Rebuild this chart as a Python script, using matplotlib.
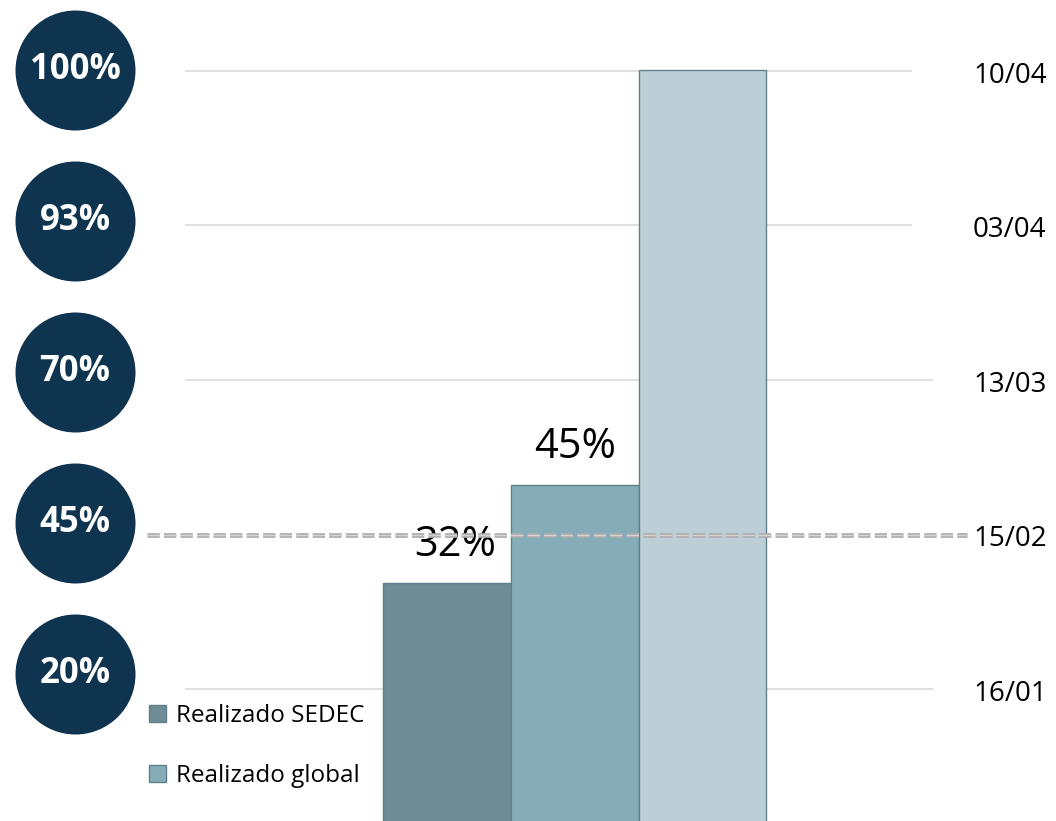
import matplotlib
matplotlib.use("Agg")
import matplotlib.pyplot as plt
from matplotlib.patches import Patch

# Data
bar_names = ["Realizado SEDEC", "Realizado global", "Meta"]
bar_values = [32, 45, 100]
bar_labels = ["32%", "45%", ""]
bar_colors = ["#6e8c95", "#86adb7", "#bdcfd6"]

targets = ["20%", "45%", "70%", "93%", "100%"]
dates = ["16/01", "15/02", "13/03", "03/04", "10/04"]
current_row = 1  # 45% / 15/02 is drawn dashed

W, H = 1056, 821
fig = plt.figure(figsize=(W / 100, H / 100), dpi=100)
plt.rcParams["font.family"] = ["Open Sans", "DejaVu Sans"]

# milestone layer (grid lines + dates)
ax2 = fig.add_axes([0, 0, 1, 1])
ax2.set_xlim(0, W)
ax2.set_ylim(-132 / 154.5, 689 / 154.5)
ax2.axis("off")
for i, d in enumerate(dates):
    if i != current_row:
        x_end = 912 if i >= 3 else 933
        ax2.hlines(i, 185, x_end, colors="#dcdcdc", linewidth=1.3)
    ax2.text(973, i - 0.03, d, fontsize=20, va="center", ha="left", color="black")

# bars
ax = fig.add_axes([0, 0, 1, 1])
ax.patch.set_alpha(0)
bw = 127.67
ax.set_xlim(-447 / bw, (W - 447) / bw)
ax.set_ylim(3.4 / 7.544, 824.4 / 7.544)
ax.axis("off")
handles = []
label_dx = [6, 0, 0]
for i, (name, v, c) in enumerate(zip(bar_names, bar_values, bar_colors)):
    ax.bar(i, v, width=1.0, color=c, edgecolor="#5f808a", linewidth=1.0)
    if bar_labels[i]:
        handles.append(Patch(facecolor=c, edgecolor="#5f808a", label=name))
        ax.annotate(bar_labels[i], (i, v), xytext=(label_dx[i], 12), textcoords="offset points",
                    ha="center", va="bottom", fontsize=30, color="black")

# target circles + dashed current line on top
ax3 = fig.add_axes([0, 0, 1, 1])
ax3.patch.set_alpha(0)
ax3.set_xlim(0, W)
ax3.set_ylim(ax2.get_ylim())
ax3.axis("off")
ax3.hlines(current_row, 147, 967, colors="#adadad", linewidth=3.4, linestyles=(0, (2.6, 0.9)))
ax3.hlines(current_row, 147, 967, colors="#d4d4d4", linewidth=1.0, linestyles=(0, (8.8, 3.1)))

ax4 = fig.add_axes([0, 0, 1, 1])
ax4.patch.set_alpha(0)
ax4.set_xlim(0, W)
ax4.set_ylim(-(H - 674) / 151, 674 / 151)
ax4.axis("off")
rows = list(range(len(targets)))
ax4.scatter([75] * len(rows), rows, s=(120 * 0.72) ** 2, color="#0f344f", linewidths=0)
for i, t in enumerate(targets):
    ax4.text(75, i, t, color="white", fontsize=25, fontweight="bold", ha="center", va="center")

leg = ax4.legend(handles=handles, loc="upper left", bbox_to_anchor=(149 / W, 1 - 704 / H),
                 frameon=False, fontsize=17.5, handlelength=0.7, handleheight=0.7,
                 handletextpad=0.4, labelspacing=1.5, borderpad=0, borderaxespad=0)

fig.savefig("out.png", dpi=100)
